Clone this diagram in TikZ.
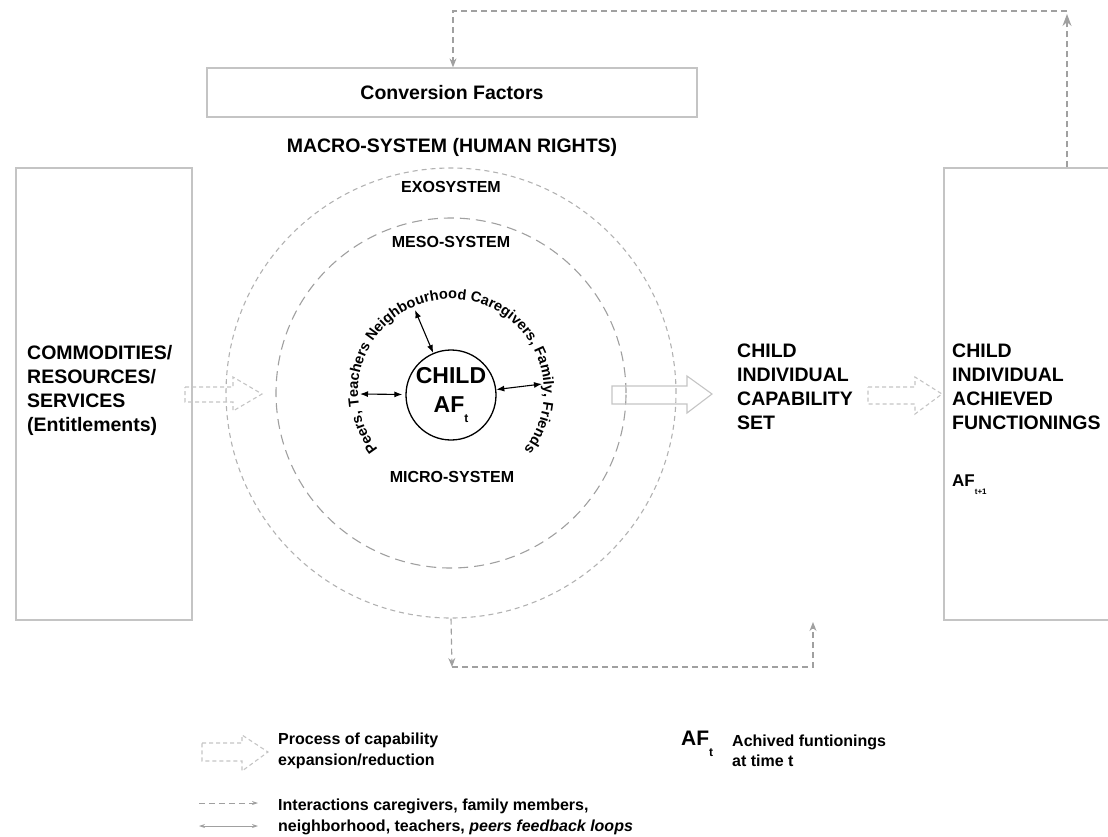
\documentclass[tikz,border=0pt]{standalone}
\usepackage{fontspec}
\setmainfont{Liberation Sans}
\usetikzlibrary{arrows.meta,decorations.text,calc}
\definecolor{boxgray}{RGB}{196,196,196}
\definecolor{dashgray}{RGB}{160,160,160}
\definecolor{ringgray}{RGB}{178,178,178}

\begin{document}
\begin{tikzpicture}[x=1pt,y=-1pt,
    box/.style={draw=boxgray,line width=1.3pt,inner sep=0pt},
    lbl/.style={font=\bfseries\fontsize{19.5}{24}\selectfont,align=left,inner sep=0pt},
    sys/.style={font=\bfseries\fontsize{16}{19}\selectfont,inner sep=0pt},
    legtext/.style={font=\bfseries\fontsize{16}{20.5}\selectfont,align=left,inner sep=0pt,anchor=west},
    fb/.style={draw=dashgray,line width=1.1pt,dash pattern=on 6pt off 4pt},
    fbarrow/.style={fb,-{Stealth[length=9pt,width=7pt]}},
    hollow/.style={draw=boxgray,line width=1.1pt,dash pattern=on 4pt off 3pt},
    link/.style={{Latex[length=8pt,width=6pt]}-{Latex[length=8pt,width=6pt]},line width=1.1pt}]
    \useasboundingbox (0,0) rectangle (1108,836);
    % boxes
    \node[box,minimum width=176pt,minimum height=452pt] (res) at (104,394) {};
    \node[lbl,anchor=west] (restxt) at (27,390) {COMMODITIES/\\RESOURCES/\\SERVICES\\(Entitlements)};
    \node[box,minimum width=490pt,minimum height=49pt,font=\bfseries\fontsize{19.5}{24}\selectfont] (conv) at (452,92.5) {Conversion Factors};
    \node[lbl] (macro) at (452,147) {MACRO-SYSTEM (HUMAN RIGHTS)};
    \node[box,minimum width=220pt,minimum height=452pt] (achv) at (1054,394) {};
    \node[lbl,anchor=west] (achtxt) at (952,387) {CHILD\\INDIVIDUAL\\ACHIEVED\\FUNCTIONINGS};
    \node[font=\bfseries\fontsize{17}{20}\selectfont,anchor=west,inner sep=0pt] (afnext) at (952,485) {AF\raisebox{-0.45em}{\fontsize{8}{8}\selectfont t+1}};
    \node[lbl,anchor=west] (captxt) at (737,387) {CHILD\\INDIVIDUAL\\CAPABILITY\\SET};
    % systems
    \node[circle,draw=ringgray,line width=1.1pt,dash pattern=on 5pt off 4pt,minimum size=450pt,inner sep=0pt] (exo) at (451,393) {};
    \node[circle,draw=dashgray,line width=1.1pt,dash pattern=on 10pt off 6pt,minimum size=350pt,inner sep=0pt] (meso) at (451,393) {};
    \node[sys] (exolbl) at (451,187) {EXOSYSTEM};
    \node[sys] (mesolbl) at (451,242) {MESO-SYSTEM};
    \node[sys] (microlbl) at (452,477) {MICRO-SYSTEM};
    \node[circle,draw,line width=1.3pt,minimum size=90pt,inner sep=0pt,align=center,
          font=\bfseries\fontsize{23}{29}\selectfont] (child) at (451,395)
          {CHILD\\AF\raisebox{-0.4em}{\fontsize{12}{12}\selectfont t}};
    \path[decorate,decoration={text along path,text align=center,
          text={|\bfseries\fontsize{14.5}{14.5}\selectfont|Peers, Teachers Neighbourhood Caregivers, Family, Friends}}]
          ($(451,392)+(141:93)$) arc[start angle=141,end angle=399,radius=93];
    \coordinate (peers) at (360,394);
    \coordinate (neigh) at (415,310);
    \coordinate (family) at (542,384);
    \draw[link,shorten <=3pt] (child) -- (peers);
    \draw[link] (child) -- (neigh);
    \draw[link] (child) -- (family);
    % process arrows
    \draw[hollow] (185,387) -- (233,387) -- (233,377) -- (262,394) -- (233,411) -- (233,402) -- (185,402) -- cycle;
    \draw[draw=boxgray,line width=1.1pt] (612,386) -- (687,386) -- (687,376) -- (712,394) -- (687,413) -- (687,404) -- (612,404) -- cycle;
    \draw[hollow] (868,387) -- (915,387) -- (915,377) -- (942,394) -- (915,414) -- (915,404) -- (868,404) -- cycle;
    % feedback loops
    \coordinate (tr) at (1067,11);
    \coordinate (tl) at (453,11);
    \draw[fb,-{Stealth[length=12pt,width=9pt]},shorten >=3pt] (tr |- achv.north) -- (tr);
    \draw[fbarrow] (tr) -- (tl) -- (tl |- conv.north);
    \coordinate (bl) at (452,667);
    \coordinate (br) at (813,667);
    \coordinate (capin) at (813,622);
    \draw[fbarrow] (exo.south) -- (bl);
    \draw[fbarrow] (bl) -- (br) -- (capin);
    % legend
    \draw[hollow] (202,743) -- (242,743) -- (242,735) -- (268,752) -- (242,771) -- (242,761) -- (202,761) -- cycle;
    \node[legtext] (leg1) at (278,751) {Process of capability\\expansion/reduction};
    \coordinate (la) at (199,803);
    \coordinate (lb) at (258,803);
    \coordinate (lc) at (199,826);
    \coordinate (ld) at (258,826);
    \draw[draw=dashgray,line width=0.8pt,dash pattern=on 6pt off 4pt,-{Stealth[length=6pt,width=4pt]}] (la) -- (lb);
    \draw[draw=dashgray,line width=0.8pt,{Stealth[length=6pt,width=4pt]}-{Stealth[length=6pt,width=4pt]}] (lc) -- (ld);
    \node[legtext] (leg2) at (278,817) {Interactions caregivers, family members,\\neighborhood, teachers, \textit{peers feedback loops}};
    \node[font=\bfseries\fontsize{21}{24}\selectfont,anchor=west,inner sep=0pt] (legaf) at (681,744) {AF\raisebox{-0.55em}{\fontsize{12}{12}\selectfont t}};
    \node[legtext] (leg3) at (732,751) {Achived funtionings\\at time t};
\end{tikzpicture}
\end{document}
